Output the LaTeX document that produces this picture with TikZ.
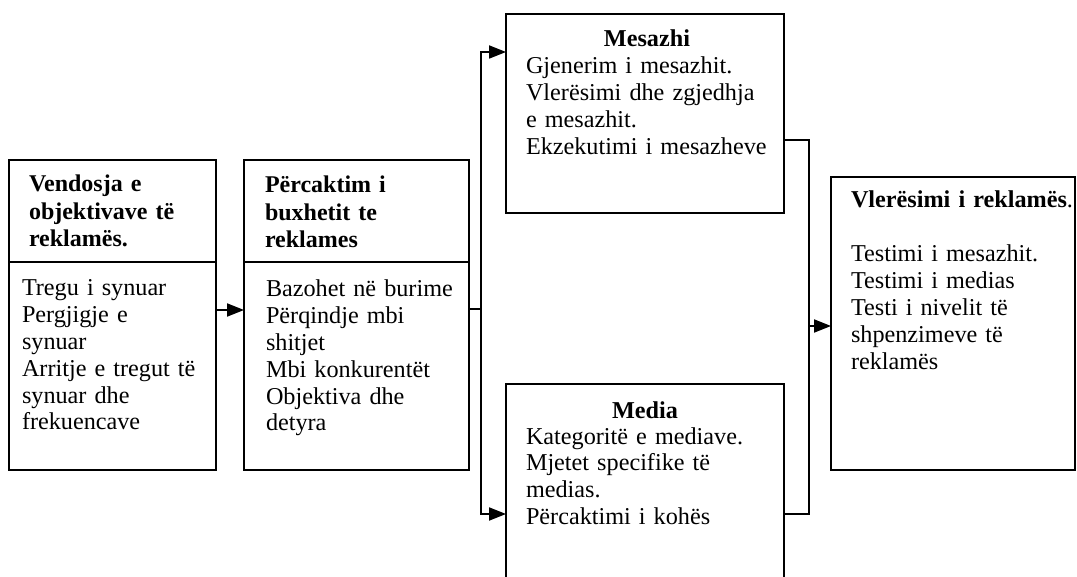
\documentclass[tikz,border=0pt]{standalone}
\usepackage{fontspec}
\setmainfont{Liberation Serif}
\usetikzlibrary{arrows.meta}
\begin{document}
\begin{tikzpicture}[x=1pt,y=-1pt,
  boxst/.style={draw,line width=1.8pt,rectangle,inner sep=0pt,outer sep=0pt,anchor=north west},
  txt/.style={anchor=base west,inner sep=0pt,outer sep=0pt,text width=260pt,align=left,
    font=\fontsize{24.2}{26.8}\selectfont},
  ttl/.style={anchor=base,inner sep=0pt,outer sep=0pt,font=\fontsize{24.2}{26.8}\selectfont\bfseries},
  conn/.style={line width=1.8pt},
  arr/.style={line width=1.8pt,-{Triangle[length=17pt,width=13pt]}}]
\useasboundingbox (0,0) rectangle (1077,577);
\clip (0,0) rectangle (1077,577);
% boxes
\node[boxst,minimum width=207pt,minimum height=310pt] (b1) at (9,160) {};
\node[boxst,minimum width=225pt,minimum height=310pt] (b2) at (244,160) {};
\node[boxst,minimum width=278pt,minimum height=199pt] (mes) at (506,14) {};
\node[boxst,minimum width=278pt,minimum height=216pt] (med) at (506,384) {};
\node[boxst,minimum width=244pt,minimum height=293pt] (vl) at (831,177) {};
\draw[conn] (b1.west |- 0,262) -- (b1.east |- 0,262);
\draw[conn] (b2.west |- 0,262) -- (b2.east |- 0,262);
% texts
\node[txt,font=\fontsize{24}{27.5}\selectfont\bfseries] (t1) at (29,192) {Vendosja e\\objektivave të\\reklamës.};
\node[txt] (t1b) at (22,296) {Tregu i synuar\\Pergjigje e\\synuar\\Arritje e tregut të\\synuar dhe\\frekuencave};
\node[txt,font=\fontsize{24}{27.5}\selectfont\bfseries] (t2) at (265,193) {Përcaktim i\\buxhetit te\\reklames};
\node[txt] (t2b) at (266,297) {Bazohet në burime\\Përqindje mbi\\shitjet\\Mbi konkurentët\\Objektiva dhe\\detyra};
\node[ttl] (t3) at (647,47) {Mesazhi};
\node[txt] (t3b) at (526,74) {Gjenerim i mesazhit.\\Vlerësimi dhe zgjedhja\\e mesazhit.\\Ekzekutimi i mesazheve};
\node[ttl] (t4) at (645,418) {Media};
\node[txt] (t4b) at (526,444) {Kategoritë e mediave.\\Mjetet specifike të\\medias.\\Përcaktimi i kohës};
\node[txt] (t5) at (851,208) {\textbf{Vlerësimi i reklamës}.};
\node[txt] (t5b) at (851,262) {Testimi i mesazhit.\\Testimi i medias\\Testi i nivelit të\\shpenzimeve të\\reklamës};
% connectors
\coordinate (split) at (481,309);
\coordinate (col) at (809,326);
\draw[arr] (b1.east |- 0,310) -- (b2.west |- 0,310);
\draw[conn] (b2.east |- split) -- (split);
\draw[arr] (split) |- (mes.west |- 0,52);
\draw[arr] (split) |- (med.west |- 0,514);
\draw[conn] (mes.east |- 0,140) -| (col) |- (med.east |- 0,514);
\draw[arr] (col) -- (vl.west |- col);
\end{tikzpicture}
\end{document}
